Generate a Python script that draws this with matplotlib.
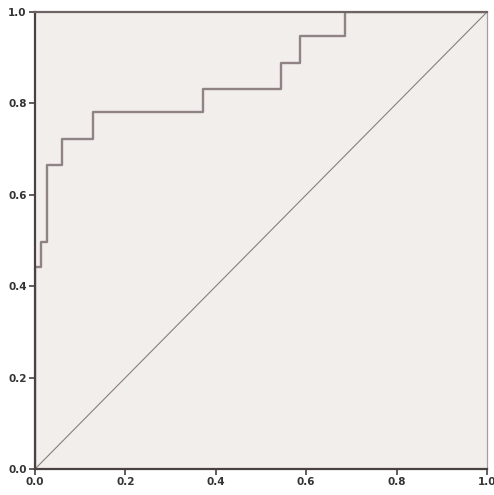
import matplotlib
matplotlib.use("Agg")
import matplotlib.pyplot as plt

# ROC curve vertices (step, post)
fpr = [0.0, 0.0, 0.013, 0.027, 0.059, 0.128, 0.372, 0.544, 0.586, 0.686, 1.0]
tpr = [0.0, 0.442, 0.497, 0.665, 0.722, 0.781, 0.831, 0.889, 0.947, 1.0, 1.0]
ref_line = [0.0, 1.0]
ticks = [0.0, 0.2, 0.4, 0.6, 0.8, 1.0]
tick_labels = ["0.0", "0.2", "0.4", "0.6", "0.8", "1.0"]

fig = plt.figure(figsize=(4.94, 4.95), dpi=100)
ax = fig.add_axes([35/494, 26/495, 452/494, 457/495])
ax.set_facecolor("#F1EEEC")

ax.plot(ref_line, ref_line, color="#8a7e7e", lw=0.8)
ax.step(fpr, tpr, where="post", color="#8f8383", lw=1.7)

ax.set_xlim(0, 1)
ax.set_ylim(0, 1)
ax.set_xticks(ticks)
ax.set_yticks(ticks)
ax.set_xticklabels(tick_labels, fontsize=7.5, fontweight="bold", color="#333333")
ax.set_yticklabels(tick_labels, fontsize=7.5, fontweight="bold", color="#333333")
ax.tick_params(direction="out", length=4, width=1.2, color="#4a4040", pad=2)

for s in ["left", "bottom"]:
    ax.spines[s].set_color("#4a4242")
    ax.spines[s].set_linewidth(1.6)
ax.spines["top"].set_color("#6e6464")
ax.spines["top"].set_linewidth(1.6)
ax.spines["right"].set_color("#a89d9d")
ax.spines["right"].set_linewidth(0.9)

fig.savefig("out.png", dpi=100, facecolor="white")
